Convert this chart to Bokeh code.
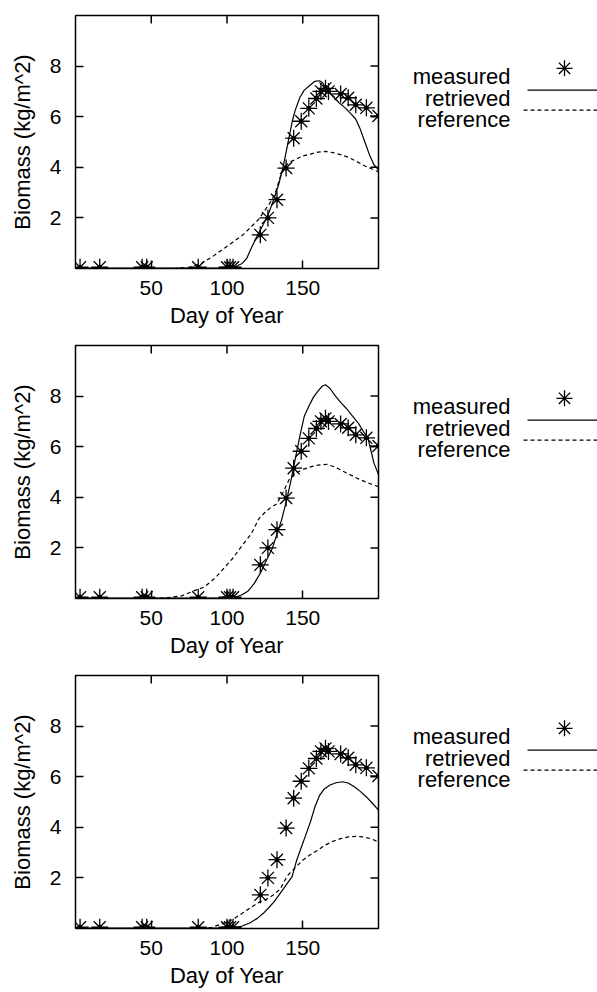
from bokeh.plotting import figure
from bokeh.layouts import column, row
from bokeh.models import Range1d, FixedTicker
from bokeh.embed import file_html
from bokeh.resources import INLINE
from bokeh.core.properties import value

# ---------------- data ----------------
x_ticks = [50, 100, 150]
y_ticks = [2, 4, 6, 8]
x_label = "Day of Year"
y_label = "Biomass (kg/m^2)"
legend_labels = ["measured", "retrieved", "reference"]

meas_day = [3, 16, 44, 47, 81, 100, 102, 104, 122, 127, 133, 139, 144, 149,
            154, 159, 162, 165, 167, 175, 180, 185, 192, 200]
meas_val = [0.05, 0.05, 0.05, 0.05, 0.05, 0.05, 0.05, 0.05, 1.33, 2.0, 2.72,
            3.97, 5.15, 5.82, 6.33, 6.72, 7.0, 7.12, 7.0, 6.9, 6.75, 6.47,
            6.35, 6.03]

# panel 1
ret1_day = [0, 100, 105, 110, 113, 116, 120, 124, 127, 131, 134, 137, 140, 143,
            145, 148, 151, 155, 158, 161, 163, 166, 170, 174, 178, 182, 185,
            188, 191, 194, 197, 200]
ret1_val = [0.02, 0.02, 0.06, 0.2, 0.4, 0.8, 1.3, 1.75, 2.1, 2.75, 3.3, 4.0,
            4.9, 5.8, 6.25, 6.75, 7.05, 7.25, 7.4, 7.42, 7.35, 7.05, 6.8, 6.55,
            6.35, 6.1, 5.9, 5.5, 5.0, 4.5, 4.1, 3.9]
ref1_day = [0, 65, 75, 83, 90, 97, 104, 110, 116, 121, 125, 129, 132, 135, 138,
            141, 145, 150, 155, 160, 165, 170, 175, 180, 185, 190, 195, 200]
ref1_val = [0.0, 0.0, 0.05, 0.2, 0.45, 0.75, 1.05, 1.3, 1.65, 1.95, 2.3, 2.65,
            3.0, 3.6, 4.0, 4.2, 4.3, 4.45, 4.52, 4.6, 4.63, 4.58, 4.5, 4.4,
            4.25, 4.08, 3.95, 3.82]

# panel 2
ret2_day = [0, 100, 105, 110, 114, 118, 122, 126, 130, 133, 136, 139, 142, 145,
            148, 151, 154, 157, 160, 163, 165, 168, 171, 175, 179, 183, 187,
            190, 193, 195, 197, 200]
ret2_val = [0.02, 0.02, 0.05, 0.15, 0.3, 0.6, 1.0, 1.5, 2.0, 2.55, 3.1, 3.8,
            4.6, 5.5, 6.4, 7.2, 7.6, 7.95, 8.2, 8.4, 8.45, 8.3, 8.05, 7.75, 7.5,
            7.2, 6.9, 6.6, 6.35, 5.85, 5.35, 4.9]
ref2_day = [0, 50, 60, 70, 78, 85, 92, 98, 104, 110, 116, 121, 125, 129, 133,
            137, 141, 145, 150, 155, 160, 166, 171, 176, 181, 186, 191, 196, 200]
ref2_val = [0.0, 0.0, 0.03, 0.1, 0.3, 0.45, 0.8, 1.2, 1.6, 2.1, 2.55, 3.15, 3.4,
            3.6, 3.75, 4.2, 4.7, 4.95, 5.1, 5.2, 5.27, 5.3, 5.2, 5.05, 4.9,
            4.75, 4.62, 4.5, 4.42]

# panel 3
ret3_day = [0, 100, 105, 110, 115, 120, 124, 128, 131, 134, 137, 140, 143, 146,
            149, 152, 155, 158, 161, 164, 168, 172, 176, 180, 184, 188, 192,
            196, 200]
ret3_val = [0.02, 0.02, 0.04, 0.1, 0.22, 0.4, 0.6, 0.85, 1.05, 1.3, 1.55, 1.8,
            2.05, 2.7, 3.2, 3.7, 4.2, 4.8, 5.25, 5.5, 5.67, 5.76, 5.8, 5.75,
            5.6, 5.42, 5.2, 4.95, 4.68]
ref3_day = [0, 85, 90, 95, 100, 105, 110, 115, 120, 125, 130, 135, 140, 145,
            150, 155, 160, 165, 170, 175, 180, 185, 190, 195, 200]
ref3_val = [0.0, 0.0, 0.05, 0.15, 0.25, 0.4, 0.6, 0.8, 1.0, 1.12, 1.3, 1.55,
            2.1, 2.4, 2.7, 2.92, 3.1, 3.3, 3.45, 3.55, 3.62, 3.64, 3.62, 3.55,
            3.42]

# ---------------- style / layout ----------------
FONT = "Liberation Sans"
TICK_FS = "21px"
LABEL_FS = "22px"
DASH = "4 3"
PANEL_H = 330
MAIN_W = 400
LEG_W = 197
B_TOP, B_BOTTOM, B_LEFT, B_RIGHT = 15, 61, 75, 22
X_MIN, X_MAX, Y_MIN, Y_MAX = 0, 200, 0, 10
TICK_PX = 8


def style_axis(ax, ticks):
    ax.ticker = FixedTicker(ticks=ticks)
    ax.axis_line_color = None
    ax.major_tick_in = TICK_PX
    ax.major_tick_out = 0
    ax.minor_tick_in = 0
    ax.minor_tick_out = 0
    ax.major_tick_line_color = "black"
    ax.major_tick_line_width = 1.5
    ax.major_label_text_font = FONT
    ax.major_label_text_font_size = TICK_FS
    ax.major_label_text_color = "black"
    ax.axis_label_text_font = FONT
    ax.axis_label_text_font_size = LABEL_FS
    ax.axis_label_text_font_style = "normal"
    ax.axis_label_text_color = "black"


def make_panel(ret_d, ret_v, ref_d, ref_v):
    p = figure(width=MAIN_W, height=PANEL_H, x_range=Range1d(X_MIN, X_MAX),
               y_range=Range1d(Y_MIN, Y_MAX), output_backend="svg",
               toolbar_location=None, min_border_left=B_LEFT,
               min_border_right=B_RIGHT, min_border_top=B_TOP,
               min_border_bottom=B_BOTTOM)
    p.grid.visible = False
    p.outline_line_color = "black"
    p.outline_line_width = 1.5
    p.background_fill_color = "white"
    p.border_fill_color = "white"

    style_axis(p.xaxis[0], x_ticks)
    style_axis(p.yaxis[0], y_ticks)
    p.xaxis[0].axis_label = x_label
    p.yaxis[0].axis_label = y_label
    p.xaxis[0].major_label_standoff = 12
    p.xaxis[0].axis_label_standoff = 5
    p.yaxis[0].major_label_standoff = 14
    p.yaxis[0].axis_label_standoff = 12

    # mirrored inward ticks on the top and right frame edges
    frame_w = MAIN_W - B_LEFT - B_RIGHT
    frame_h = PANEL_H - B_TOP - B_BOTTOM
    dx = TICK_PX * (X_MAX - X_MIN) / frame_w
    dy = TICK_PX * (Y_MAX - Y_MIN) / frame_h
    p.segment(x0=x_ticks, x1=x_ticks, y0=[Y_MAX] * len(x_ticks),
              y1=[Y_MAX - dy] * len(x_ticks), line_color="black",
              line_width=1.5)
    p.segment(x0=[X_MAX] * len(y_ticks), x1=[X_MAX - dx] * len(y_ticks),
              y0=y_ticks, y1=y_ticks, line_color="black", line_width=1.5)

    p.line(ref_d, ref_v, line_color="black", line_width=1.2, line_dash=DASH)
    p.line(ret_d, ret_v, line_color="black", line_width=1.2)
    p.scatter(meas_day, meas_val, marker="asterisk", size=17,
              line_color="black", line_width=1.3)
    p.scatter(meas_day, meas_val, marker="circle", size=4,
              line_color="black", fill_color="black")
    return p


def make_legend():
    # the frame lines up with the neighbouring panel's frame; the y range is
    # expressed in panel pixels (top border .. bottom of frame)
    lg = figure(width=LEG_W, height=PANEL_H, x_range=Range1d(0, LEG_W),
                y_range=Range1d(PANEL_H - B_BOTTOM, B_TOP),
                output_backend="svg", toolbar_location=None,
                x_axis_location=None, y_axis_location=None,
                min_border_left=0, min_border_right=0,
                min_border_top=B_TOP, min_border_bottom=B_BOTTOM)
    lg.grid.visible = False
    lg.outline_line_color = None
    lg.text(x=[110, 110, 110], y=[76, 98, 119], text=legend_labels,
            text_align="right", text_baseline="alphabetic",
            text_font=value(FONT), text_font_size=LABEL_FS, text_color="black")
    lg.scatter(x=[164], y=[68], marker="asterisk", size=16,
               line_color="black", line_width=1.3)
    lg.line(x=[127, 197], y=[90, 90], line_color="black", line_width=1.2)
    lg.line(x=[123, 197], y=[110, 110], line_color="black", line_width=1.2,
            line_dash=DASH)
    return lg


p1 = make_panel(ret1_day, ret1_val, ref1_day, ref1_val)
p2 = make_panel(ret2_day, ret2_val, ref2_day, ref2_val)
p3 = make_panel(ret3_day, ret3_val, ref3_day, ref3_val)

layout = column(row(p1, make_legend()), row(p2, make_legend()),
                row(p3, make_legend()))

open("out.html", "w").write(file_html(layout, INLINE))
